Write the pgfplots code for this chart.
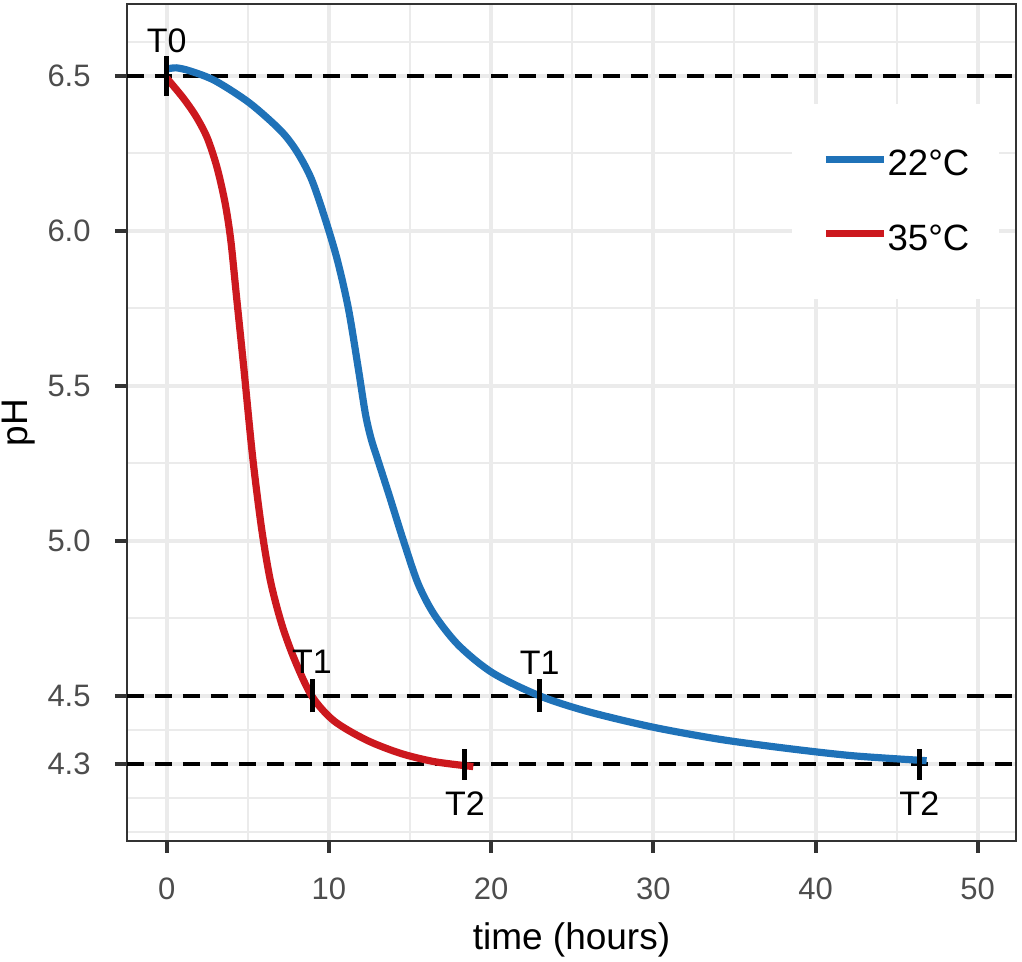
\documentclass[border=0pt]{standalone}
\usepackage{fontspec}
\setmainfont{Liberation Sans}
\usepackage{pgfplots}
\pgfplotsset{compat=1.18}
\definecolor{gridc}{HTML}{EBEBEB}
\definecolor{framec}{HTML}{333333}
\definecolor{ticktext}{HTML}{4D4D4D}
\definecolor{c22}{HTML}{1F72B8}
\definecolor{c35}{HTML}{CC181E}
\begin{document}
\begin{tikzpicture}
\useasboundingbox (-63.5pt,-60.5pt) rectangle (447.5pt,420.5pt);
\begin{axis}[
  scale only axis, width=444.5pt, height=418.5pt,
  xmin=-2.448, xmax=52.36, ymin=4.032, ymax=6.732,
  axis line style={framec, line width=1pt},
  xtick={0,10,20,30,40,50}, minor xtick={5,15,25,35,45},
  ytick={4.28,4.5,5,5.5,6,6.5}, yticklabels={4.3,4.5,5.0,5.5,6.0,6.5},
  minor ytick={4.06,4.17,4.39,4.75,5.25,5.75,6.25,6.61},
  grid=both,
  major grid style={gridc, line width=2pt},
  minor grid style={gridc, line width=1pt},
  tick align=outside, tick pos=left,
  major tick length=6pt, minor tick length=0pt,
  major tick style={framec, line width=2pt},
  /pgf/number format/assume math mode=true,
  ticklabel style={font=\fontsize{15.5}{15.5}\selectfont, text=ticktext, inner sep=0pt},
  xticklabel style={anchor=north, yshift=-12pt},
  yticklabel style={anchor=east, xshift=-12pt},
  xlabel={time (hours)}, ylabel={pH},
  label style={font=\fontsize{18.5}{18.5}\selectfont, text=black, inner sep=0pt},
  xlabel style={at={(axis description cs:0.5,-0.1302)}, anchor=base},
  ylabel style={at={(axis description cs:-0.1114,0.5)}, anchor=base, rotate=0},
  legend cell align=left,
  legend image code/.code={\draw[#1, line width=3.6pt] (0pt,0.5ex) -- (29pt,0.5ex);},
  legend style={at={(0.748,0.8805)}, anchor=north west, draw=none, fill=white,
    inner xsep=15pt, inner ysep=23pt, row sep=22.9pt,
    font=\fontsize{18.3}{18.3}\selectfont,
    nodes={inner sep=0pt},
    /tikz/every even column/.append style={column sep=4pt}},
]
\addplot[black, dash pattern=on 8.5pt off 5.5pt, line width=2pt, forget plot] coordinates {(-2.448,6.5) (52.36,6.5)};
\addplot[black, dash pattern=on 8.5pt off 5.5pt, line width=2pt, forget plot] coordinates {(-2.448,4.5) (52.36,4.5)};
\addplot[black, dash pattern=on 8.5pt off 5.5pt, line width=2pt, forget plot] coordinates {(-2.448,4.28) (52.36,4.28)};

\addplot[c22, line width=3.6pt, smooth, tension=0.5] coordinates {
(0,6.522) (0.6,6.526) (1.5,6.515) (3.0,6.484) (5.1,6.413) (7.0,6.325) (8.0,6.258)
(8.9,6.17) (9.7,6.05) (10.5,5.91) (11.2,5.75) (11.8,5.56) (12.25,5.41) (12.6,5.33) (12.95,5.272)
(13.7,5.15) (14.6,5.00) (15.5,4.862) (16.5,4.762) (18.0,4.663) (20.1,4.574)
(23.0,4.50) (26.0,4.449) (30.0,4.399) (34.1,4.36) (38.2,4.331) (42.3,4.307) (46.85,4.291)};
\addlegendentry{22°C}
\addplot[c35, line width=3.6pt, smooth, tension=0.5] coordinates {
(0,6.493) (1.0,6.43) (1.8,6.37) (2.5,6.30) (3.1,6.205) (3.6,6.09) (3.95,5.97)
(4.3,5.79) (4.75,5.56) (5.3,5.27) (5.85,5.04) (6.4,4.87) (7.1,4.73) (7.9,4.615)
(8.94,4.50) (10.3,4.42) (12.3,4.358) (14.4,4.315) (16.5,4.288) (18.9,4.272)};
\addlegendentry{35°C}

\addplot[black, line width=2.5pt, forget plot] coordinates {(0,6.435) (0,6.565)};
\addplot[black, line width=2.5pt, forget plot] coordinates {(8.96,4.447) (8.96,4.553)};
\addplot[black, line width=2.5pt, forget plot] coordinates {(18.39,4.23) (18.39,4.33)};
\addplot[black, line width=2.5pt, forget plot] coordinates {(23.0,4.447) (23.0,4.553)};
\addplot[black, line width=2.5pt, forget plot] coordinates {(46.4,4.23) (46.4,4.33)};

\node[font=\fontsize{17}{17}\selectfont, inner sep=0pt] at (axis cs:0,6.612) {T0};
\node[font=\fontsize{17}{17}\selectfont, inner sep=0pt] at (axis cs:8.96,4.611) {T1};
\node[font=\fontsize{17}{17}\selectfont, inner sep=0pt] at (axis cs:18.39,4.152) {T2};
\node[font=\fontsize{17}{17}\selectfont, inner sep=0pt] at (axis cs:23.0,4.606) {T1};
\node[font=\fontsize{17}{17}\selectfont, inner sep=0pt] at (axis cs:46.4,4.152) {T2};
\end{axis}
\end{tikzpicture}
\end{document}
